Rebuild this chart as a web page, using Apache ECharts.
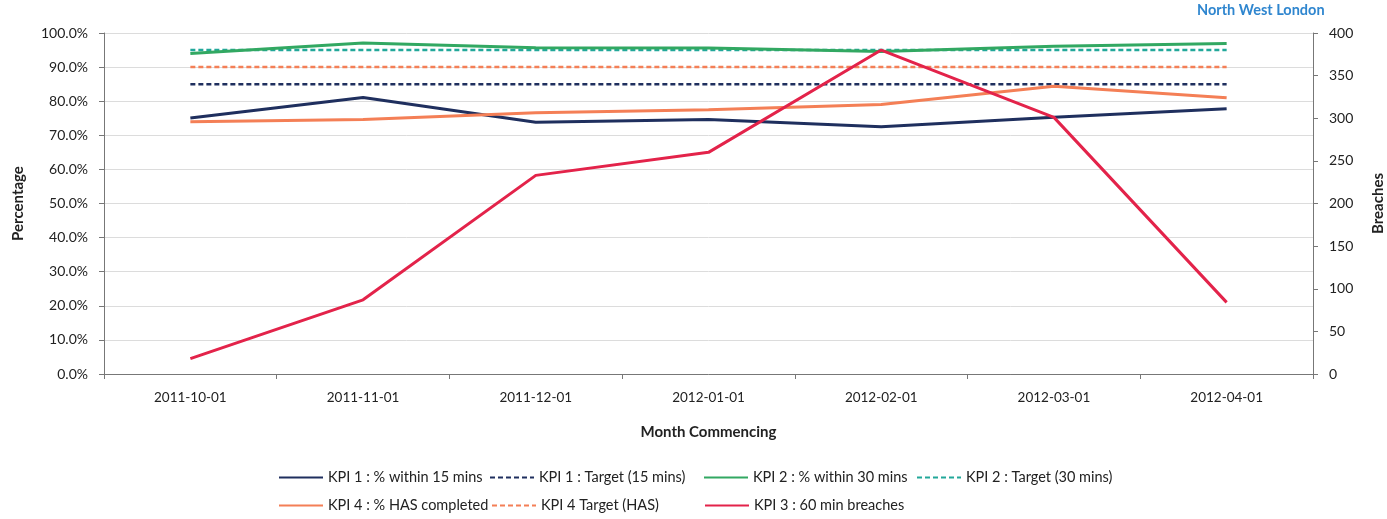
<!DOCTYPE html>
<html>
<head>
<meta charset="utf-8">
<script src="https://cdn.jsdelivr.net/npm/echarts@6/dist/echarts.min.js"></script>
<style>
html,body{margin:0;padding:0;background:#ffffff;}
#chart{width:1387px;height:519px;}
</style>
</head>
<body>
<div id="chart"></div>
<script>
const months = ['2011-10-01','2011-11-01','2011-12-01','2012-01-01','2012-02-01','2012-03-01','2012-04-01'];
const kpi1Within15 = [75.1, 81.1, 73.8, 74.6, 72.5, 75.3, 77.8];
const kpi1Target15 = [85, 85, 85, 85, 85, 85, 85];
const kpi2Within30 = [94.0, 97.1, 95.7, 95.6, 94.6, 96.1, 96.9];
const kpi2Target30 = [95, 95, 95, 95, 95, 95, 95];
const kpi4HasCompleted = [74.0, 74.6, 76.6, 77.5, 79.0, 84.4, 81.0];
const kpi4TargetHas = [90, 90, 90, 90, 90, 90, 90];
const kpi3Breaches60 = [18, 87, 233, 260, 380, 301, 84];

const FONT = 'Lato';
const chart = echarts.init(document.getElementById('chart'), null, {renderer: 'canvas'});

function line(name, data, color, dashed, width, yIndex, z) {
  return {
    name: name, type: 'line', data: data, yAxisIndex: yIndex || 0,
    symbol: 'none', showSymbol: false, z: z || 2,
    lineStyle: {color: color, width: width, type: dashed ? [5, 3] : 'solid'},
    itemStyle: {color: color},
    emphasis: {disabled: true}, animation: false
  };
}

const legendText = {fontFamily: FONT, fontSize: 14.5, color: '#222'};
function legendItem(name, left, top) {
  return {
    data: [name], left: left, top: top, padding: 0, itemWidth: 44, itemHeight: 10, itemGap: 0,
    itemStyle: {opacity: 0}, textStyle: legendText, selectedMode: false
  };
}

chart.setOption({
  animation: false,
  backgroundColor: '#ffffff',
  title: {
    text: 'North West London', left: 1197, top: 3, padding: 0,
    textStyle: {fontFamily: FONT, fontSize: 14.5, fontWeight: 'bold', color: '#2f86cf'}
  },
  grid: {left: 104, right: 74, top: 33, bottom: 145, containLabel: false, outerBoundsMode: 'none'},
  legend: [
    legendItem('KPI 1 : % within 15 mins', 278, 470),
    legendItem('KPI 1 : Target (15 mins)', 489, 470),
    legendItem('KPI 2 : % within 30 mins', 703, 470),
    legendItem('KPI 2 : Target (30 mins)', 916, 470),
    legendItem('KPI 4 : % HAS completed', 278, 498),
    legendItem('KPI 4 Target (HAS)', 491, 498),
    legendItem('KPI 3 : 60 min breaches', 704, 498)
  ],
  xAxis: {
    type: 'category', data: months, boundaryGap: true,
    name: 'Month Commencing', nameLocation: 'middle', nameGap: 51,
    nameTextStyle: {fontFamily: FONT, fontSize: 15, fontWeight: 'bold', color: '#222'},
    axisLine: {lineStyle: {color: '#777', width: 1}},
    axisTick: {show: true, alignWithLabel: false, length: 5, lineStyle: {color: '#777'}},
    axisLabel: {fontFamily: FONT, fontSize: 13.5, color: '#222', margin: 17}
  },
  yAxis: [
    {
      type: 'value', min: 0, max: 100, interval: 10, position: 'left',
      name: 'Percentage', nameLocation: 'middle', nameGap: 78, nameRotate: 90,
      nameTextStyle: {fontFamily: FONT, fontSize: 15, fontWeight: 'bold', color: '#222'},
      axisLine: {show: true, lineStyle: {color: '#777'}},
      axisTick: {show: true, length: 5, lineStyle: {color: '#777'}},
      axisLabel: {fontFamily: FONT, fontSize: 14, color: '#222', margin: 16, formatter: v => v.toFixed(1) + '%'},
      splitLine: {show: true, lineStyle: {color: '#dcdcdc', width: 1}}
    },
    {
      type: 'value', min: 0, max: 400, interval: 50, position: 'right',
      name: 'Breaches', nameLocation: 'middle', nameGap: 58, nameRotate: 90,
      nameTextStyle: {fontFamily: FONT, fontSize: 15, fontWeight: 'bold', color: '#222'},
      axisLine: {show: true, lineStyle: {color: '#777'}},
      axisTick: {show: true, length: 5, lineStyle: {color: '#777'}},
      axisLabel: {fontFamily: FONT, fontSize: 14, color: '#222', margin: 16},
      splitLine: {show: false}
    }
  ],
  series: [
    line('KPI 1 : % within 15 mins', kpi1Within15, '#1f2f5e', false, 3, 0, 4),
    line('KPI 1 : Target (15 mins)', kpi1Target15, '#1f2f5e', true, 2.5, 0, 3),
    line('KPI 2 : % within 30 mins', kpi2Within30, '#32a862', false, 3, 0, 4),
    line('KPI 2 : Target (30 mins)', kpi2Target30, '#22a89a', true, 2.5, 0, 3),
    line('KPI 4 : % HAS completed', kpi4HasCompleted, '#f47f56', false, 3, 0, 4),
    line('KPI 4 Target (HAS)', kpi4TargetHas, '#f47f56', true, 2.5, 0, 3),
    line('KPI 3 : 60 min breaches', kpi3Breaches60, '#e3234a', false, 3, 1, 5)
  ]
});
</script>
</body>
</html>
